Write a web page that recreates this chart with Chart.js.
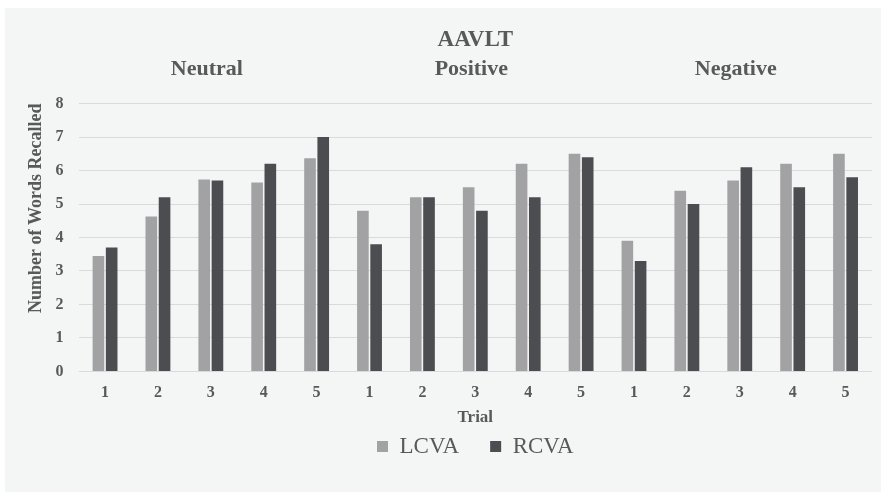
<!DOCTYPE html>
<html>
<head>
<meta charset="utf-8">
<script src="https://cdn.jsdelivr.net/npm/chart.js@4"></script>
<style>
  html, body { margin: 0; padding: 0; background: #ffffff; }
  #panel { position: absolute; left: 5px; top: 8px; width: 876px; height: 484px; background: #f4f6f6; }
  #grafico { display: block; }
</style>
</head>
<body>
<div id="panel"><canvas id="grafico" width="876" height="484"></canvas></div>
<script>
// Etiquetas del eje x (ensayos) y grupos
const ensayos = ['1', '2', '3', '4', '5', '1', '2', '3', '4', '5', '1', '2', '3', '4', '5'];
const grupos = ['Neutral', 'Positive', 'Negative'];

// Valores
const valoresLCVA = [3.45, 4.63, 5.73, 5.64, 6.37, 4.8, 5.2, 5.5, 6.2, 6.5, 3.9, 5.4, 5.7, 6.2, 6.5];
const valoresRCVA = [3.7, 5.2, 5.7, 6.2, 7.0, 3.8, 5.2, 4.8, 5.2, 6.4, 3.3, 5.0, 6.1, 5.5, 5.8];

const fuenteSerif = "'Liberation Serif', 'Times New Roman', serif";

// Plugin para escribir los nombres de los grupos encima de cada bloque
const etiquetasGrupo = {
    id: 'etiquetasGrupo',
    afterDraw(chart) {
        const ctx = chart.ctx;
        const x = chart.scales.x;
        ctx.save();
        ctx.font = 'bold 22px ' + fuenteSerif;
        ctx.fillStyle = '#595959';
        ctx.textAlign = 'center';
        ctx.textBaseline = 'middle';
        grupos.forEach((g, i) => {
            const centro = x.getPixelForValue(i * 5 + 2) - 4;
            ctx.fillText(g, centro, 61);
        });
        ctx.restore();
    }
};

const ctx = document.getElementById('grafico').getContext('2d');
const grafico = new Chart(ctx, {
    type: 'bar',
    data: {
        labels: ensayos,
        datasets: [
            {
                label: 'LCVA',
                data: valoresLCVA,
                backgroundColor: '#a2a2a4',
                borderWidth: 0,
            },
            {
                label: 'RCVA',
                data: valoresRCVA,
                backgroundColor: '#4b4d51',
                borderWidth: 0,
            },
        ],
    },
    options: {
        responsive: false,
        animation: false,
        layout: { padding: { left: 21, right: 9, top: 0, bottom: 24 } },
        datasets: { bar: { categoryPercentage: 0.5, barPercentage: 0.88 } },
        plugins: {
            title: {
                display: true,
                fullSize: false,
                text: 'AAVLT',
                color: '#595959',
                font: { family: fuenteSerif, size: 23, weight: 'bold' },
                padding: { top: 18, bottom: 50 },
            },
            legend: {
                position: 'bottom',
                fullSize: false,
                labels: {
                    color: '#595959',
                    font: { family: fuenteSerif, size: 23 },
                    boxWidth: 11,
                    boxHeight: 11,
                    padding: 31,
                },
            },
            tooltip: { enabled: false },
        },
        scales: {
            x: {
                grid: { display: false, drawTicks: false },
                border: { display: false },
                ticks: {
                    color: '#595959',
                    font: { family: fuenteSerif, size: 16, weight: 'bold' },
                    padding: 12,
                    maxRotation: 0,
                },
                title: {
                    display: true,
                    text: 'Trial',
                    color: '#595959',
                    font: { family: fuenteSerif, size: 17, weight: 'bold' },
                    padding: { top: -7, bottom: -24 },
                },
            },
            y: {
                min: 0,
                max: 8,
                ticks: {
                    stepSize: 1,
                    color: '#595959',
                    font: { family: fuenteSerif, size: 16, weight: 'bold' },
                    padding: 15,
                },
                grid: { color: '#d9dadb', drawTicks: false },
                border: { display: false },
                title: {
                    display: true,
                    align: 'end',
                    text: 'Number of Words Recalled',
                    color: '#595959',
                    font: { family: fuenteSerif, size: 18, weight: 'bold' },
                    padding: { top: 0, bottom: -7 },
                },
            },
        },
    },
    plugins: [etiquetasGrupo],
});
</script>
</body>
</html>
